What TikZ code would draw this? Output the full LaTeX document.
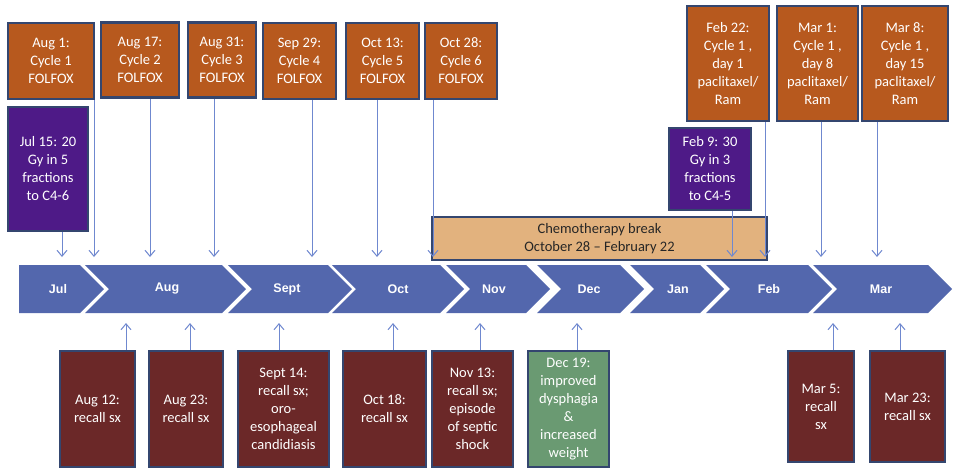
\documentclass[tikz,border=0pt]{standalone}
\usepackage{fontspec}
\setmainfont{Carlito}
\newfontfamily\monthfont{Liberation Sans}
\usetikzlibrary{arrows.meta}

\definecolor{folfox}{HTML}{B7591E}
\definecolor{rad}{HTML}{4E1A87}
\definecolor{sxred}{HTML}{6B2828}
\definecolor{good}{HTML}{6A9A72}
\definecolor{tan}{HTML}{E2B27E}
\definecolor{edge}{HTML}{34466F}
\definecolor{band}{HTML}{5367AD}
\definecolor{link}{HTML}{6F88CF}

\tikzset{
  box/.style={draw=edge, line width=2.5pt, align=center, text=white, inner sep=2pt,
    font=\fontsize{14.5}{18}\selectfont},
  chemo/.style={box, fill=folfox},
  radio/.style={box, fill=rad},
  recall/.style={box, fill=sxred},
  better/.style={box, fill=good},
  pause/.style={box, fill=tan, text=black!85},
  month/.style={text=white, font=\monthfont\bfseries\fontsize{12.5}{14}\selectfont},
  conn/.style={draw=link, line width=1pt, -{Straight Barb[length=6pt,width=10pt]}},
  chev/.style={fill=band}
}

\begin{document}
\begin{tikzpicture}[x=1pt, y=-1pt]
  \useasboundingbox (0,0) rectangle (953,469);
  \coordinate (toprow) at (0,257);
  \coordinate (botrow) at (0,323);

  % month band
  \fill[chev] (19,265) -- (80,265) -- (104,289) -- (80,313) -- (19,313) -- cycle;
  \foreach \a/\b in {85/222, 228/328, 332/440, 446/526, 537/620, 630/700, 706/808, 813/928}
    \fill[chev] (\a,265) -- (\b,265) -- ({\b+24},289) -- (\b,313) -- (\a,313) -- ({\a+24},289) -- cycle;
  \foreach \m/\x in {Jul/58, Aug/167, Sept/287, Oct/398, Nov/494, Dec/589, Jan/678, Feb/769, Mar/881}
    \node[month] (m\m) at (\x,289) {\m};

  % treatment above the band
  \node[chemo, minimum width=86pt, minimum height=76pt] (aug1) at (51,61) {Aug 1:\\Cycle 1\\FOLFOX};
  \node[chemo, minimum width=78pt, minimum height=75pt] (aug17) at (140,60) {Aug 17:\\Cycle 2\\FOLFOX};
  \node[chemo, minimum width=68pt, minimum height=75pt] (aug31) at (222,60) {Aug 31:\\Cycle 3\\FOLFOX};
  \node[chemo, minimum width=73pt, minimum height=76pt] (sep29) at (299.5,61) {Sep 29:\\Cycle 4\\FOLFOX};
  \node[chemo, minimum width=73pt, minimum height=76pt] (oct13) at (382.5,61) {Oct 13:\\Cycle 5\\FOLFOX};
  \node[chemo, minimum width=72pt, minimum height=76pt] (oct28) at (461,61) {Oct 28:\\Cycle 6\\FOLFOX};
  \node[chemo, minimum width=82pt, minimum height=115pt] (feb22) at (728,63.5) {Feb 22:\\Cycle 1 ,\\day 1\\paclitaxel/\\Ram};
  \node[chemo, minimum width=81pt, minimum height=115pt] (mar1) at (817.5,63.5) {Mar 1:\\Cycle 1 ,\\day 8\\paclitaxel/\\Ram};
  \node[chemo, minimum width=86pt, minimum height=115pt] (mar8) at (905,63.5) {Mar 8:\\Cycle 1 ,\\day 15\\paclitaxel/\\Ram};
  \node[radio, minimum width=80pt, minimum height=124pt] (jul15) at (48,169) {Jul 15: 20\\Gy in 5\\fractions\\to C4-6};
  \node[radio, minimum width=82pt, minimum height=82pt] (feb9) at (710,169) {Feb 9: 30\\Gy in 3\\fractions\\to C4-5};
  \node[pause, minimum width=335pt, minimum height=43pt] (brk) at (599.5,238.5) {Chemotherapy break\\October 28 -- February 22};

  % symptoms below the band
  \node[recall, minimum width=75pt, minimum height=116pt] (aug12) at (97.5,409) {Aug 12:\\recall sx};
  \node[recall, minimum width=74pt, minimum height=116pt] (aug23) at (186,409) {Aug 23:\\recall sx};
  \node[recall, minimum width=91pt, minimum height=116pt] (sep14) at (283.5,409) {Sept 14:\\recall sx;\\oro-\\esophageal\\candidiasis};
  \node[recall, minimum width=83pt, minimum height=116pt] (oct18) at (384.5,409) {Oct 18:\\recall sx};
  \node[recall, minimum width=81pt, minimum height=116pt] (nov13) at (472.5,409) {Nov 13:\\recall sx;\\episode\\of septic\\shock};
  \node[better, minimum width=81pt, minimum height=116pt] (dec19) at (568.5,409) {Dec 19:\\improved\\dysphagia\\\&\\increased\\weight};
  \node[recall, minimum width=66pt, minimum height=111pt] (mar5) at (821,406.5) {Mar 5:\\recall\\sx};
  \node[recall, minimum width=75pt, minimum height=111pt] (mar23) at (907.5,406.5) {Mar 23:\\recall sx};

  % connectors
  \foreach \n/\x in {aug1/94, aug17/150, aug31/214, sep29/312, oct13/377, oct28/433,
                     feb22/765, mar1/821, mar8/877, jul15/62, feb9/732}
    \draw[conn] (\x,0 |- \n.south) -- (\x,0 |- toprow);
  \foreach \n/\x in {aug12/126, aug23/190, sep14/279, oct18/393, nov13/480, dec19/577,
                     mar5/833, mar23/900}
    \draw[conn] (\x,0 |- \n.north) -- (\x,0 |- botrow);
\end{tikzpicture}
\end{document}
